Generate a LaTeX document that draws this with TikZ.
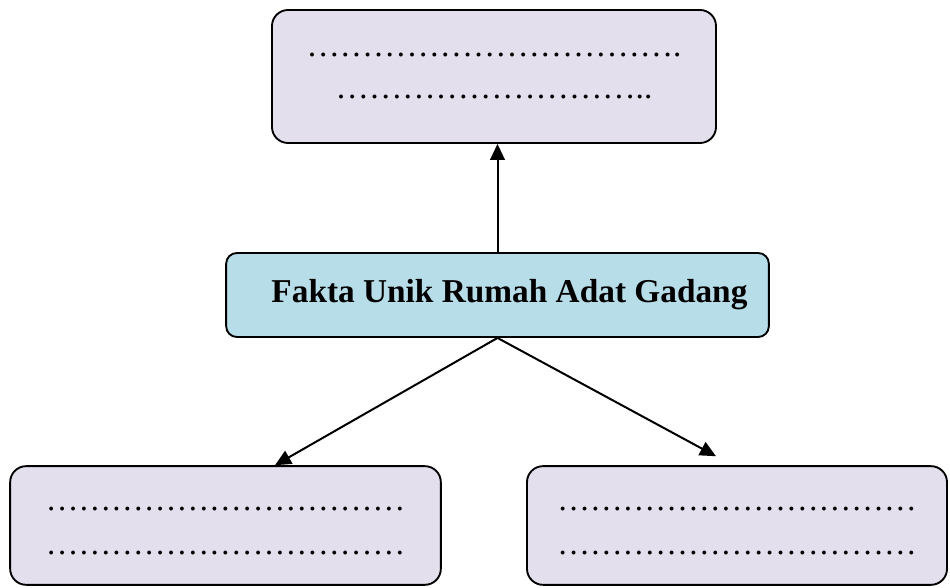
\documentclass[tikz,border=0pt]{standalone}
\usepackage{fontspec}
\setmainfont{Liberation Serif}
\definecolor{BoxLilac}{HTML}{E4DFEC}
\definecolor{BoxBlue}{HTML}{B7DDE8}
\usetikzlibrary{arrows.meta, calc}
\newcommand{\dotrow}[1]{\foreach \i in {1,...,#1}{…}}
\newcommand{\lowrow}[1]{\raisebox{-5pt}[0pt][0pt]{\dotrow{#1}}}

\begin{document}
\begin{tikzpicture}[
  x=0.75pt, y=0.75pt,
  blank/.style={rectangle, rounded corners=12pt, draw=black, line width=1.4pt, fill=BoxLilac, align=center, inner sep=0pt},
  topic/.style={rectangle, rounded corners=8pt, draw=black, line width=1.4pt, fill=BoxBlue, minimum width=407pt, minimum height=63pt, font=\fontsize{25}{30}\selectfont\bfseries},
  arrow/.style={-{Triangle[length=12pt,width=11pt]}, line width=1.5pt}
]
  \useasboundingbox (0,0) rectangle (950,588);

  % Main topic
  \node[topic] (fakta) at (497.5,293) {\hspace*{18pt}\raisebox{2pt}{Fakta Unik Rumah Adat Gadang}};

  % Boxes to fill in
  \node[blank, minimum width=333pt, minimum height=99.75pt, font=\fontsize{25}{31.5}\selectfont] (upper) at (494,511.5)
    {\dotrow{11}.\\\dotrow{9}..};
  \node[blank, minimum width=323pt, minimum height=89pt, font=\fontsize{24.5}{33}\selectfont] (lower left) at (225.5,62.5)
    {\lowrow{11}\\\lowrow{11}};
  \node[blank, minimum width=315pt, minimum height=89pt, font=\fontsize{24.5}{33}\selectfont] (lower right) at (737,62.5)
    {\lowrow{11}\\\lowrow{11}};

  % Arrow ends
  \coordinate (upper tip) at (fakta.north |- upper.south);
  \coordinate (left tip) at ($(lower left.north)+(49.5,0)$);
  \coordinate (right tip) at ($(lower right.north)+(-21,9)$);

  % Arrows
  \draw[arrow] (fakta.north) -- (upper tip);
  \draw[arrow] (fakta.south) -- (left tip);
  \draw[arrow] (fakta.south) -- (right tip);
\end{tikzpicture}
\end{document}
